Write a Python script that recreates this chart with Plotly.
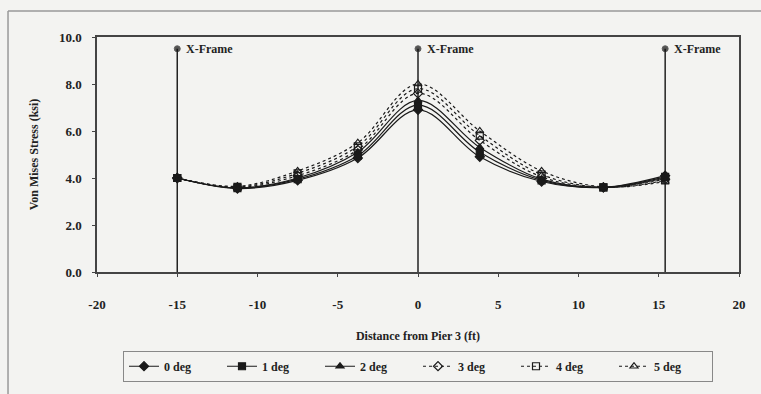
import plotly.graph_objects as go

distance = [-15, -11.25, -7.5, -3.75, 0, 3.85, 7.7, 11.55, 15.4]
series_names = ["0 deg", "1 deg", "2 deg", "3 deg", "4 deg", "5 deg"]
stress_0 = [4.0, 3.55, 3.9, 4.85, 6.9, 4.9, 3.85, 3.6, 4.1]
stress_1 = [4.0, 3.57, 3.95, 4.95, 7.1, 5.1, 3.9, 3.6, 4.05]
stress_2 = [4.0, 3.58, 4.0, 5.1, 7.3, 5.3, 3.95, 3.6, 4.0]
stress_3 = [4.0, 3.6, 4.1, 5.2, 7.6, 5.6, 4.05, 3.6, 3.95]
stress_4 = [4.0, 3.62, 4.2, 5.35, 7.8, 5.8, 4.15, 3.6, 3.9]
stress_5 = [4.0, 3.65, 4.3, 5.5, 8.0, 6.0, 4.3, 3.62, 3.85]
frame_x = [-15, 0, 15.4]
frame_top = 9.5
frame_label = "X-Frame"
x_ticks = [-20, -15, -10, -5, 0, 5, 10, 15, 20]
x_tick_labels = ["-20", "-15", "-10", "-5", "0", "5", "10", "15", "20"]
y_ticks = [0, 2, 4, 6, 8, 10]
y_tick_labels = ["0.0", "2.0", "4.0", "6.0", "8.0", "10.0"]

all_series = [stress_0, stress_1, stress_2, stress_3, stress_4, stress_5]
symbols = ["diamond", "square", "triangle-up", "diamond-open", "square-open", "triangle-up-open"]
dashes = ["solid", "solid", "solid", "dot", "dot", "dot"]

fig = go.Figure()
for fx in frame_x:
    fig.add_trace(go.Scatter(
        x=[fx, fx], y=[0, frame_top], mode="lines+markers",
        line=dict(color="#222", width=1.5),
        marker=dict(size=[0, 6], color="#111", symbol="circle"),
        showlegend=False, hoverinfo="skip"))
    fig.add_annotation(x=fx, y=frame_top, text="<b>" + frame_label + "</b>",
                       showarrow=False, xanchor="left", yanchor="middle", xshift=7,
                       font=dict(family="Liberation Serif", size=12, color="#222"))

for name, vals, sym, dash in zip(series_names, all_series, symbols, dashes):
    fig.add_trace(go.Scatter(
        x=distance, y=vals, name=name, mode="lines+markers",
        line=dict(color="#1a1a1a", width=1.2, dash=dash, shape="spline"),
        marker=dict(symbol=sym, size=7, color="#1a1a1a",
                    line=dict(color="#1a1a1a", width=1.2))))

tick_font = dict(family="Liberation Serif", size=13, color="#222", weight="bold")
title_font = dict(family="Liberation Serif", size=12, color="#222", weight="bold")
fig.update_xaxes(range=[-20, 20], tickvals=x_ticks, ticktext=x_tick_labels,
                 showgrid=False, zeroline=False,
                 showline=True, linecolor="#444", linewidth=1.5, mirror=True,
                 ticks="outside", ticklen=3, tickcolor="#444", ticklabelstandoff=17,
                 tickfont=tick_font,
                 title=dict(text="Distance from Pier 3 (ft)", font=title_font, standoff=20))
fig.update_yaxes(range=[0, 10], tickvals=y_ticks, ticktext=y_tick_labels,
                 showgrid=False, zeroline=False,
                 showline=True, linecolor="#444", linewidth=1.5, mirror=True,
                 ticks="outside", ticklen=3, tickcolor="#444", ticklabelstandoff=8,
                 tickfont=tick_font,
                 title=dict(text="Von Mises Stress (ksi)", font=title_font, standoff=18))

fig.update_layout(
    width=761, height=394,
    margin=dict(l=97, r=22, t=37, b=114),
    paper_bgcolor="#f3f3f1", plot_bgcolor="#f3f3f1",
    font=dict(family="Liberation Serif", color="#222"),
    legend=dict(orientation="h", x=0.5, xanchor="center", y=-0.335, yanchor="top",
                bordercolor="#888", borderwidth=1, bgcolor="#f3f3f1",
                font=dict(family="Liberation Serif", size=12, color="#222", weight="bold"),
                tracegroupgap=0, entrywidth=53, entrywidthmode="pixels"),
    shapes=[
        dict(type="line", xref="paper", yref="paper", x0=-0.1386, x1=1.05, y0=1.111, y1=1.111,
             line=dict(color="#999", width=1.5)),
        dict(type="line", xref="paper", yref="paper", x0=-0.1386, x1=-0.1386, y0=1.111, y1=-0.6,
             line=dict(color="#999", width=1.5)),
    ],
)
fig.write_html("out.html")
